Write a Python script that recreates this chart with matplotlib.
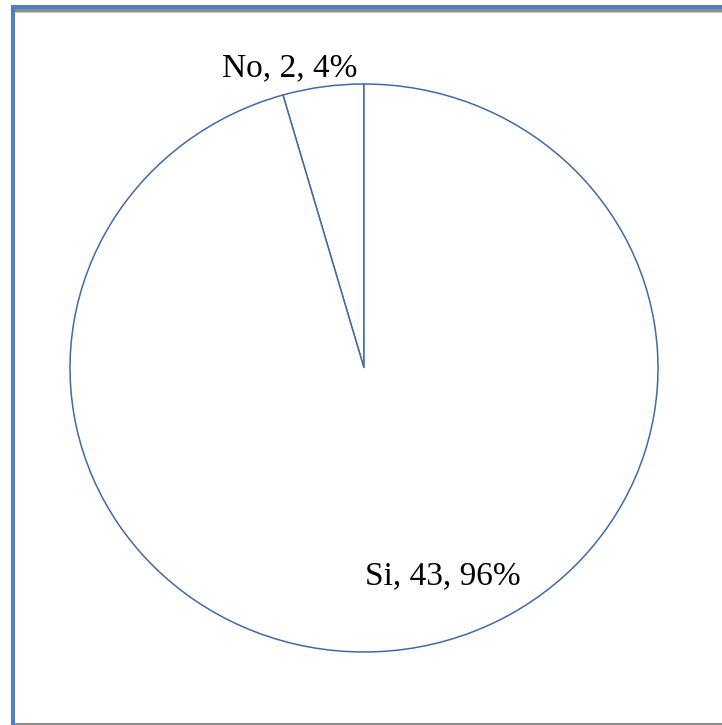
import matplotlib
matplotlib.use("Agg")
import matplotlib.pyplot as plt
from matplotlib.patches import Rectangle

labels = ["Si", "No"]
counts = [43, 2]

W, H = 722, 725
fig = plt.figure(figsize=(W / 100, H / 100), dpi=100)
fig.patch.set_facecolor("white")

# Frame around the chart area (pixel units converted to figure fractions)
def px_rect(x0, y0, x1, y1, color):
    fig.add_artist(Rectangle((x0 / W, 1 - y1 / H), (x1 - x0) / W, (y1 - y0) / H,
                             transform=fig.transFigure, facecolor=color,
                             edgecolor="none", zorder=0))

px_rect(11, 5, 722, 9, "#4F81BD")
px_rect(15, 9, 722, 12, "#8C8C8C")
px_rect(15, 12, 722, 13, "#C8C8C8")
px_rect(11, 5, 15, 725, "#4F81BD")
px_rect(15, 723, 722, 725, "#8C8C8C")

# Plot area for the pie (slightly wider than tall)
cx, cy, rx, ry = 364, 368, 294, 284
ax = fig.add_axes([(cx - rx) / W, 1 - (cy + ry) / H, 2 * rx / W, 2 * ry / H])
total = sum(counts)
ax.pie(counts[::-1], startangle=90, counterclock=True,
       colors=["white", "white"],
       wedgeprops=dict(edgecolor="#3F6AA8", linewidth=1.1),
       radius=1.0)
ax.set_aspect("auto")
ax.set_xlim(-1, 1)
ax.set_ylim(-1, 1)
ax.axis("off")
for w in ax.patches:
    w.set_clip_on(False)

font = dict(family=["Liberation Serif", "DejaVu Serif"], fontsize=24, color="black")
label_pos = {"No": (-0.252, 1.056), "Si": (0.269, -0.732)}
for lab, n in zip(labels, counts):
    pct = round(100 * n / total)
    x, y = label_pos[lab]
    ax.text(x, y, f"{lab}, {n}, {pct}%", ha="center", va="center", **font)

fig.savefig("out.png", dpi=100, facecolor="white")
